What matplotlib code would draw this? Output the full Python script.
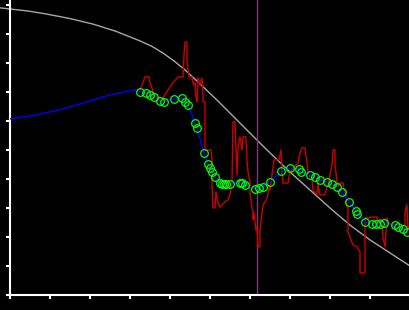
import matplotlib
matplotlib.use("Agg")
import matplotlib.pyplot as plt

# smooth reference curve (gray)
ref_x = [-2.5, 0, 4.5, 9, 15, 20.75, 26.5, 32.5, 35.5, 38.25, 41, 43.75, 47.5, 51.75, 56.75, 61.75,
         65, 70, 75, 80, 85, 90, 95, 100]
ref_y = [9.90, 9.86, 9.79, 9.69, 9.53, 9.34, 9.09, 8.76, 8.57, 8.34, 8.07, 7.76, 7.28, 6.72, 6.03, 5.34,
         4.90, 4.24, 3.62, 3.00, 2.41, 1.90, 1.45, 1.00]

# blue prediction part without markers
pre_x = [0, 5, 10, 15, 20, 25, 28.75, 31.25, 32.5]
pre_y = [6.07, 6.17, 6.31, 6.48, 6.69, 6.90, 7.00, 7.07, 7.00]

# blue fit with green sample markers
fit_x = [32.5, 34, 35, 36, 37.5, 38.5, 41, 43, 43.75, 44.5, 46.25, 46.75, 48.5, 49.5, 50, 50.5,
         51.25, 52.5, 53, 53.5, 54, 55, 57.5, 58, 58.75, 61.25, 62.25,
         63.25, 65, 67.75, 70, 72.25, 72.75, 75, 76.25, 77.5, 79.25, 80.5, 81.75, 83, 84.75, 86.5,
         86.75, 88.75, 90.5, 91.5, 92.5, 93.5, 96.25, 97, 98.25, 99.25]
fit_y = [7.00, 6.97, 6.90, 6.83, 6.69, 6.66, 6.76, 6.79, 6.66, 6.55, 5.93, 5.76, 4.90, 4.52, 4.38, 4.24,
         4.07, 3.86, 3.83, 3.83, 3.83, 3.83, 3.86, 3.86, 3.79, 3.66, 3.69,
         3.72, 3.90, 4.28, 4.38, 4.34, 4.24, 4.14, 4.07, 3.97, 3.90, 3.83, 3.72, 3.55, 3.21, 2.90,
         2.79, 2.52, 2.45, 2.45, 2.45, 2.48, 2.41, 2.34, 2.28, 2.17]

# raw noisy signal (red)
raw_x = [32.5, 33, 33.75, 34.75, 35, 35.5, 35.75, 36.25, 38.25, 38.75, 39.5, 40.75, 42, 43.25, 43.5,
         43.75, 44.25, 44.25, 44.5, 44.75, 45.5, 45.75, 46, 46.25, 46.5, 46.75, 47, 47, 47.5, 48,
         48.25, 48.25, 48.75, 48.75, 48.75, 50.25, 50.5, 50.5, 50.75, 51.25, 51.5, 52, 52.5, 53.75,
         54.5, 55, 55.25, 55.5, 55.75, 56.25, 56.75, 57, 57.5, 58, 58.25, 59, 59.25, 59.5, 60, 60,
         60.5, 60.75, 60.75, 61, 61.5, 61.75, 62, 62.5, 62.5, 63, 63.25, 63.75, 64.25, 64.5, 64.75,
         65, 65.5, 66, 67.25, 67.75, 68, 68.25, 69.5, 70, 70.75, 72, 72.5, 73, 73.75, 74.25, 74.5,
         75.5, 75.75, 76.75, 77, 77.5, 78, 78.75, 79.25, 79.5, 80, 80.5, 80.75, 81.25, 81.25, 81.5,
         81.75, 82, 82.5, 83.25, 83.5, 84, 84.25, 84.5, 84.5, 85.75, 86.75, 87.5, 87.5, 88.75, 88.75,
         88.75, 89.75, 90.5, 91.75, 91.75, 93, 93.25, 93.75, 94.25, 94.5, 95.5, 96.25, 97.5, 98.75,
         98.75, 99.25, 99.5, 100]
raw_y = [7.07, 7.24, 7.52, 7.52, 7.31, 7.14, 6.97, 6.83, 6.79, 6.90, 7.07, 7.31, 7.52, 7.52, 8.28,
         8.72, 8.72, 8.10, 7.76, 7.52, 7.52, 7.31, 7.24, 7.31, 6.83, 6.66, 7.31, 7.48, 7.24, 7.48,
         6.90, 6.66, 6.66, 5.86, 5.00, 5.00, 4.66, 3.79, 3.00, 3.00, 3.55, 3.17, 3.03, 3.21,
         3.28, 3.45, 3.72, 3.86, 5.97, 5.97, 4.14, 5.07, 5.45, 5.00, 5.45, 5.45, 4.66, 4.24, 3.90, 3.52,
         3.03, 2.86, 2.59, 2.83, 2.24, 2.34, 1.66, 1.66, 2.24, 2.83, 3.10, 3.21, 3.34, 3.45, 3.79,
         3.62, 4.14, 4.66, 4.66, 5.00, 4.24, 3.86, 3.86, 4.24, 4.38, 4.55, 4.90, 5.07, 5.07, 4.55, 4.21,
         3.97, 3.62, 3.45, 3.86, 3.45, 3.45, 3.45, 3.72, 3.79, 4.14, 4.48, 5.00, 5.00, 4.48, 4.21,
         3.90, 3.72, 3.86, 3.86, 3.62, 3.45, 3.03, 3.03, 2.17, 1.72, 1.66, 1.48, 0.76, 0.76, 1.66,
         2.66, 2.66, 2.69, 2.69, 2.59, 2.59, 1.97, 1.66, 2.66, 2.52, 2.41, 2.31, 2.34, 2.41,
         2.86, 3.10, 2.24, 2.41]

cursor_x = 61.75

fig = plt.figure(figsize=(4.1, 3.1), dpi=100, facecolor="black")
ax = fig.add_axes([10 / 410, 15 / 310, 400 / 410, 295 / 310])
ax.set_facecolor("black")

ax.plot(ref_x, ref_y, color="#a8a8a8", lw=1, clip_on=False, zorder=1)
ax.axvline(cursor_x, color="#7a3a7a", lw=1, zorder=2)
ax.plot(raw_x, raw_y, color="#cc0000", lw=1, zorder=3)
ax.plot(pre_x, pre_y, color="#0000ff", lw=1, zorder=4)
ax.plot(fit_x, fit_y, color="#0000ff", lw=1, marker="o", ms=5.5, mfc="none",
        mec="#00ff00", mew=0.9, zorder=5)

ax.set_xlim(0, 100)
ax.set_ylim(0, 10.17)
ax.set_xticks(range(0, 101, 10))
ax.set_yticks(range(0, 11))
ax.set_xticklabels([])
ax.set_yticklabels([])
for s in ["top", "right"]:
    ax.spines[s].set_visible(False)
for s in ["left", "bottom"]:
    ax.spines[s].set_color("white")
    ax.spines[s].set_linewidth(1.5)
ax.tick_params(colors="white", length=3, width=1.5, direction="out")

fig.savefig("out.png", dpi=100, facecolor="black")
